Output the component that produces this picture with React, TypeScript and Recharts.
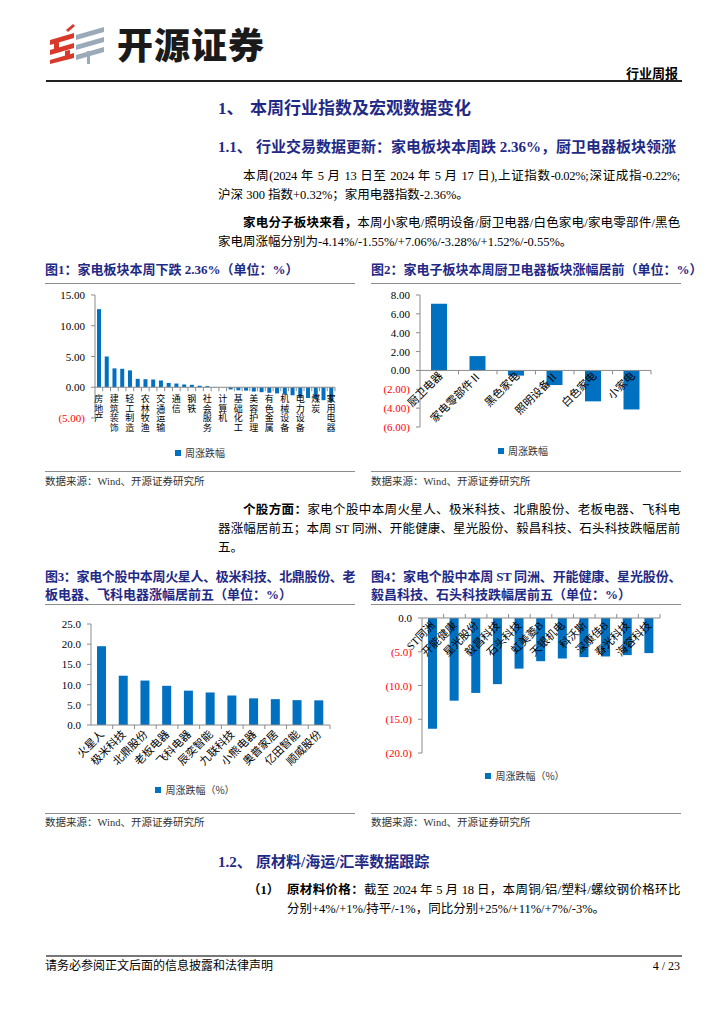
import React from 'react'
import { BarChart, Bar, XAxis, YAxis, ReferenceLine, Legend } from 'recharts'

const BLUE = '#0070C0'
const NAVY = '#1f2a86'
const AXIS = '#8c8c8c'
const RED = '#FF0000'
const FONT = "'Liberation Serif', 'Noto Sans CJK SC', serif"
const CJK = "'Noto Sans CJK SC', sans-serif"

// 图1：申万一级行业本周涨跌幅（%）
const industryNames = [
  '房地产', '建筑材料', '建筑装饰', '非银金融', '轻工制造', '纺织服饰', '农林牧渔', '商贸零售',
  '交通运输', '综合', '通信', '食品饮料', '钢铁', '银行', '社会服务', '公用事业',
  '计算机', '传媒', '基础化工', '医药生物', '美容护理', '石油石化', '有色金属', '环保',
  '机械设备', '国防军工', '电力设备', '汽车', '煤炭', '电子', '家用电器',
]
const industryChange = [
  12.7, 5.0, 3.07, 3.0, 2.74, 1.37, 1.31, 1.26, 1.1, 0.7, 0.6, 0.45, 0.4, 0.25, 0.18, 0.05,
  -0.02, -0.35, -0.5, -0.55, -0.7, -0.8, -0.9, -1.0, -1.2, -1.3, -1.65, -1.75, -1.9, -2.1, -2.36,
]
const industryTicks = [15, 10, 5, 0, -5]

// 图2：家电子板块
const subNames = ['厨卫电器', '家电零部件Ⅱ', '黑色家电', '照明设备Ⅱ', '白色家电', '小家电']
const subChange = [7.06, 1.52, -0.55, -1.55, -3.28, -4.14]
const subTicks = [8, 6, 4, 2, 0, -2, -4, -6]

// 图3：涨幅居前个股
const gainerNames = ['火星人', '极米科技', '北鼎股份', '老板电器', '飞科电器', '辰奕智能', '九联科技', '小熊电器', '奥普家居', '亿田智能', '顺威股份']
const gainerChange = [19.5, 12.2, 11.0, 9.7, 8.5, 8.05, 7.3, 6.6, 6.4, 6.15, 6.1]
const gainerTicks = [25, 20, 15, 10, 5, 0]

// 图4：跌幅居前个股
const loserNames = ['ST同洲', '开能健康', '星光股份', '毅昌科技', '石头科技', '虹美菱B', '天银机电', '科沃斯', '深康佳B', '春光科技', '海容科技']
const loserChange = [-16.4, -12.25, -11.1, -9.8, -7.5, -6.4, -6.0, -5.8, -5.7, -5.5, -5.2]
const loserTicks = [0, -5, -10, -15, -20]

type Margin = { top: number; right: number; bottom: number; left: number }

interface ChartProps {
  names: string[]
  values: number[]
  left: number
  top: number
  width: number
  height: number
  margin: Margin
  yWidth: number
  ticks: number[]
  decimals: number
  barSize: number
  labelMode: 'stack' | 'slant'
  labelDx: number
  labelDy: number
  markUp?: boolean
  legendText: string
  legendTop: number
  legendCenter: number
}

function ChangeChart(props: ChartProps) {
  const {
    names, values, left, top, width, height, margin, yWidth, ticks, decimals, barSize,
    labelMode, labelDx, labelDy, markUp, legendText, legendTop, legendCenter,
  } = props
  const max = Math.max(...ticks)
  const min = Math.min(...ticks)
  const data = names.map((name, i) => ({ name, value: values[i] }))
  const plotH = height - margin.top - margin.bottom - 1
  const plotW = width - margin.left - margin.right - yWidth
  const zeroY = margin.top + (plotH * max) / (max - min)
  const band = plotW / names.length

  const yTick = (p: any) => {
    const v = Number(p.payload.value)
    const s = v < 0 ? `(${Math.abs(v).toFixed(decimals)})` : v.toFixed(decimals)
    return (
      <text x={p.x} y={p.y} dy={4} textAnchor="end" fontSize={11} fontFamily={FONT} fill={v < 0 ? RED : '#000'}>
        {s}
      </text>
    )
  }

  const xTick = (p: any) => {
    const x = Number(p.x)
    const index = Number(p.index)
    const label = String(p.payload.value)
    const mx = x + band / 2
    let text: React.ReactNode = null
    if (labelMode === 'stack') {
      if (index % 2 === 0) {
        text = (
          <text x={x} y={zeroY + labelDy} textAnchor="middle" fontSize={9} fontFamily={FONT} fill="#000">
            {Array.from(label).map((c, i) => (
              <tspan key={i} x={x} dy={i === 0 ? 0 : 9.5}>{c}</tspan>
            ))}
          </text>
        )
      }
    } else {
      const ax = x + labelDx
      const ay = zeroY + labelDy
      text = (
        <text x={ax} y={ay} textAnchor="end" fontSize={11} fontFamily={FONT} fill="#000" transform={`rotate(-45 ${ax} ${ay})`}>
          {label}
        </text>
      )
    }
    return (
      <g>
        <line x1={mx} x2={mx} y1={zeroY} y2={zeroY + (markUp ? -4 : 4)} stroke={AXIS} />
        {text}
      </g>
    )
  }

  return (
    <div style={{ position: 'absolute', left, top }}>
      <BarChart width={width} height={height} data={data} margin={margin}>
        <XAxis dataKey="name" interval={0} height={1} axisLine={false} tickLine={false} tick={xTick} />
        <YAxis
          width={yWidth}
          domain={[min, max]}
          ticks={ticks}
          interval={0}
          axisLine={{ stroke: AXIS }}
          tickLine={{ stroke: AXIS }}
          tickSize={4}
          tickMargin={6}
          tick={yTick}
        />
        <Bar dataKey="value" fill={BLUE} barSize={barSize} isAnimationActive={false} />
        <ReferenceLine y={0} stroke={AXIS} />
        <Legend
          verticalAlign="middle"
          align="center"
          layout="horizontal"
          wrapperStyle={{ top: legendTop, left: legendCenter - 70, width: 140 }}
          content={() => (
            <div style={{ display: 'flex', alignItems: 'center', justifyContent: 'center', fontFamily: CJK, fontSize: 10, color: '#333', lineHeight: '12px' }}>
              <span style={{ display: 'inline-block', width: 6, height: 6, background: BLUE, marginRight: 4 }} />
              {legendText}
            </div>
          )}
        />
      </BarChart>
    </div>
  )
}

function T({ x, y, w, size = 12.5, bold, color = '#000', justify, font = FONT, right, children, ls }: any) {
  const lh = 20
  return (
    <div
      style={{
        position: 'absolute',
        left: x,
        top: y - lh / 2,
        width: w,
        lineHeight: `${lh}px`,
        fontSize: size,
        fontWeight: bold ? 700 : 400,
        color,
        fontFamily: font,
        letterSpacing: ls,
        textAlign: right ? 'right' : justify ? 'justify' : 'left',
        textAlignLast: justify ? 'justify' : undefined,
        whiteSpace: justify ? 'normal' : 'nowrap',
      }}
    >
      {children}
    </div>
  )
}

function HLine({ x, y, w, h = 1, color = AXIS }: any) {
  return <div style={{ position: 'absolute', left: x, top: y, width: w, height: h, background: color }} />
}

function Logo() {
  const red = '#D9392B'
  const gray = '#9AAAB8'
  return (
    <>
      <svg style={{ position: 'absolute', left: 46, top: 24 }} width={64} height={40} viewBox="0 0 64 40">
        <polygon points="20,6 27,0 29,2 22,8" fill={red} />
        <polygon points="4,16 28,9 28,14 4,21" fill={red} />
        <polygon points="4,26 28,19 28,24 4,31" fill={red} />
        <polygon points="4,36 28,29 28,34 4,40" fill={red} />
        <polygon points="8,19 13,18 13,28 8,29" fill={red} />
        <polygon points="19,27 24,26 24,33 19,34" fill={red} />
        <polygon points="30,11 58,3 58,8 30,16" fill={gray} />
        <polygon points="30,21 58,13 58,18 30,26" fill={gray} />
        <polygon points="30,31 58,23 58,28 30,36" fill={gray} />
        <rect x={41} y={27} width={3} height={13} fill={gray} />
      </svg>
      <div style={{ position: 'absolute', left: 117, top: 21, lineHeight: '44px', fontSize: 36, fontWeight: 900, fontFamily: CJK, color: '#1a1a1a', letterSpacing: 1 }}>
        开源证券
      </div>
    </>
  )
}

export default function App() {
  return (
    <div style={{ position: 'absolute', left: 0, top: 0, width: 724, height: 1024, background: '#fff', fontFamily: FONT, color: '#000' }}>
      <Logo />
      <T x={526} y={74} w={152} size={13} bold right>行业周报</T>
      <HLine x={46} y={80} w={636} h={1.5} color="#222" />

      <T x={218} y={109} size={17} bold color={NAVY}>1、</T>
      <T x={250} y={109} size={17} bold color={NAVY}>本周行业指数及宏观数据变化</T>

      <T x={218} y={147} size={15} bold color={NAVY}>1.1、</T>
      <T x={256} y={147} size={15} bold color={NAVY}>行业交易数据更新：家电板块本周跌 2.36%，厨卫电器板块领涨</T>

      <T x={243} y={176} w={437} justify ls={-0.3}>本周(2024 年 5 月 13 日至 2024 年 5 月 17 日),上证指数-0.02%;深证成指-0.22%;</T>
      <T x={218} y={195}>沪深 300 指数+0.32%；家用电器指数-2.36%。</T>

      <T x={243} y={223} w={437} justify ls={-0.3}><b>家电分子板块来看，</b>本周小家电/照明设备/厨卫电器/白色家电/家电零部件/黑色</T>
      <T x={218} y={242}>家电周涨幅分别为-4.14%/-1.55%/+7.06%/-3.28%/+1.52%/-0.55%。</T>

      <T x={45} y={270} size={13} bold color={NAVY}>图1：家电板块本周下跌 2.36%（单位：%）</T>
      <T x={371} y={270} size={13} bold color={NAVY}>图2：家电子板块本周厨卫电器板块涨幅居前（单位：%）</T>
      <HLine x={45} y={283} w={310} />
      <HLine x={371} y={283} w={310} />

      <ChangeChart
        names={industryNames}
        values={industryChange}
        left={45}
        top={283}
        width={311}
        height={187}
        margin={{ top: 12, right: 21, bottom: 51, left: 0 }}
        yWidth={50}
        ticks={industryTicks}
        decimals={2}
        barSize={4}
        labelMode="stack"
        labelDx={0}
        labelDy={15}
        legendText="周涨跌幅"
        legendTop={164}
        legendCenter={155}
      />
      <ChangeChart
        names={subNames}
        values={subChange}
        left={371}
        top={283}
        width={309}
        height={187}
        margin={{ top: 12, right: 29, bottom: 42, left: 0 }}
        yWidth={49}
        ticks={subTicks}
        decimals={2}
        barSize={16}
        labelMode="slant"
        labelDx={4}
        labelDy={6}
        legendText="周涨跌幅"
        legendTop={162}
        legendCenter={152}
      />

      <HLine x={45} y={471} w={310} />
      <HLine x={371} y={471} w={310} />
      <T x={45} y={482} size={10.5} color="#333">数据来源：Wind、开源证券研究所</T>
      <T x={371} y={482} size={10.5} color="#333">数据来源：Wind、开源证券研究所</T>

      <T x={243} y={510} w={437} justify ls={-0.3}><b>个股方面：</b>家电个股中本周火星人、极米科技、北鼎股份、老板电器、飞科电</T>
      <T x={218} y={529} w={462} justify ls={-0.3}>器涨幅居前五；本周 ST 同洲、开能健康、星光股份、毅昌科技、石头科技跌幅居前</T>
      <T x={218} y={548}>五。</T>

      <T x={45} y={577} w={310} size={13} bold color={NAVY} justify ls={-0.5}>图3：家电个股中本周火星人、极米科技、北鼎股份、老</T>
      <T x={45} y={595} size={13} bold color={NAVY}>板电器、飞科电器涨幅居前五（单位：%）</T>
      <T x={371} y={577} w={310} size={13} bold color={NAVY} justify ls={-0.5}>图4：家电个股中本周 ST 同洲、开能健康、星光股份、</T>
      <T x={371} y={595} size={13} bold color={NAVY}>毅昌科技、石头科技跌幅居前五（单位：%）</T>
      <HLine x={45} y={604} w={310} />
      <HLine x={371} y={604} w={310} />

      <ChangeChart
        names={gainerNames}
        values={gainerChange}
        left={45}
        top={604}
        width={311}
        height={209}
        margin={{ top: 20, right: 26, bottom: 87, left: 0 }}
        yWidth={46}
        ticks={gainerTicks}
        decimals={1}
        barSize={9}
        labelMode="slant"
        labelDx={3}
        labelDy={10}
        legendText="周涨跌幅（%）"
        legendTop={180}
        legendCenter={150}
      />
      <ChangeChart
        names={loserNames}
        values={loserChange}
        left={371}
        top={604}
        width={309}
        height={209}
        margin={{ top: 14, right: 20, bottom: 59, left: 0 }}
        yWidth={51}
        ticks={loserTicks}
        decimals={1}
        barSize={9}
        labelMode="slant"
        labelDx={3}
        labelDy={8}
        markUp
        legendText="周涨跌幅（%）"
        legendTop={166}
        legendCenter={154}
      />

      <HLine x={45} y={813} w={310} />
      <HLine x={371} y={813} w={310} />
      <T x={45} y={823} size={10.5} color="#333">数据来源：Wind、开源证券研究所</T>
      <T x={371} y={823} size={10.5} color="#333">数据来源：Wind、开源证券研究所</T>

      <T x={218} y={862} size={15} bold color={NAVY}>1.2、</T>
      <T x={256} y={862} size={15} bold color={NAVY}>原材料/海运/汇率数据跟踪</T>

      <T x={248} y={890} bold>（1）</T>
      <T x={287} y={890} w={393} justify ls={-0.4}><b>原材料价格：</b>截至 2024 年 5 月 18 日，本周铜/铝/塑料/螺纹钢价格环比</T>
      <T x={287} y={909}>分别+4%/+1%/持平/-1%，同比分别+25%/+11%/+7%/-3%。</T>

      <HLine x={46} y={955} w={636} h={2} color="#777" />
      <T x={45} y={966} size={12}>请务必参阅正文后面的信息披露和法律声明</T>
      <T x={480} y={966} w={200} size={12} right>4 / 23</T>
    </div>
  )
}
